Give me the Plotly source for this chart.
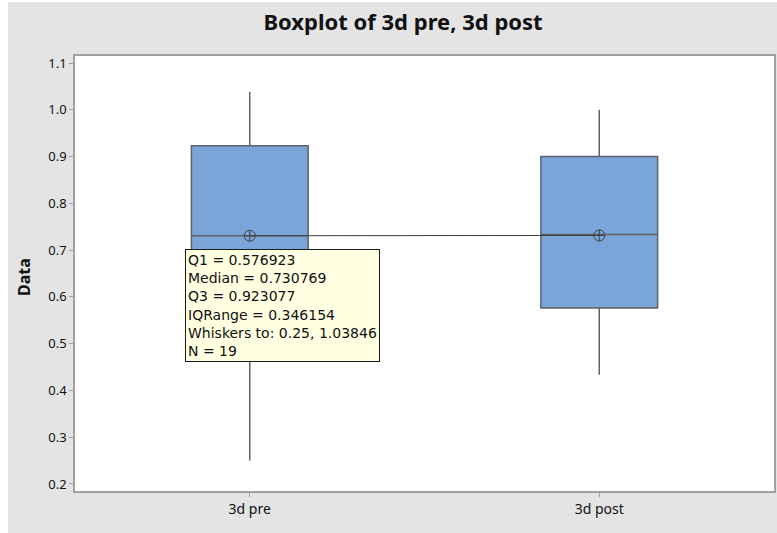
import plotly.graph_objects as go

# Summary statistics for each sample
categories = ["3d pre", "3d post"]
q1_vals = [0.576923, 0.5763]
median_vals = [0.730769, 0.7333]
q3_vals = [0.923077, 0.9]
lower_whisker = [0.25, 0.4333]
upper_whisker = [1.03846, 1.0]
mean_vals = [0.7308, 0.7313]
n_vals = [19, 19]

y_ticks = [0.2, 0.3, 0.4, 0.5, 0.6, 0.7, 0.8, 0.9, 1.0, 1.1]

BOX_FILL = "#7BA5D8"
BOX_LINE = "#5E6166"
FRAME_GRAY = "#E4E4E4"
AXIS_GRAY = "#A0A0A0"
TEXT_FONT = "Noto Sans"

fig = go.Figure()

for i, cat in enumerate(categories):
    fig.add_trace(go.Box(
        x=[cat],
        q1=[q1_vals[i]],
        median=[median_vals[i]],
        q3=[q3_vals[i]],
        lowerfence=[lower_whisker[i]],
        upperfence=[upper_whisker[i]],
        width=0.334,
        whiskerwidth=0,
        boxpoints=False,
        fillcolor=BOX_FILL,
        line=dict(color=BOX_LINE, width=1.5),
        hoverinfo="skip",
        showlegend=False,
    ))

# Mean symbols joined by a connect line
fig.add_trace(go.Scatter(
    x=categories,
    y=mean_vals,
    mode="lines+markers",
    line=dict(color="#404040", width=1),
    marker=dict(symbol="circle-cross-open", size=11,
                color="#404040", line=dict(color="#404040", width=1)),
    hoverinfo="skip",
    showlegend=False,
))

# Data tip for the first sample
i = 0
tip = "<br>".join([
    f"Q1 = {q1_vals[i]:g}",
    f"Median = {median_vals[i]:g}",
    f"Q3 = {q3_vals[i]:g}",
    f"IQRange = {q3_vals[i] - q1_vals[i]:.6f}",
    f"Whiskers to: {lower_whisker[i]:g}, {upper_whisker[i]:g}",
    f"N = {n_vals[i]}",
])
fig.add_annotation(
    text=tip, xref="paper", yref="paper", x=0.1569, y=0.5563,
    xanchor="left", yanchor="top", align="left", showarrow=False,
    font=dict(family="DejaVu Sans", size=14, color="#111111"),
    bgcolor="#FFFFE1", bordercolor="#1A1A1A", borderwidth=1, borderpad=2,
)

# Y axis title
fig.add_annotation(
    text="<b>Data</b>", xref="paper", yref="paper", x=-0.074, y=0.4925,
    xanchor="center", yanchor="middle", textangle=-90, showarrow=False,
    font=dict(family=TEXT_FONT, size=16, color="#111111"),
)

# White strips at the left and top edges of the window
fig.add_shape(type="rect", xref="paper", yref="paper",
              x0=-0.2, x1=-0.0956, y0=-0.2, y1=1.3,
              fillcolor="white", line=dict(width=0), layer="below")
fig.add_shape(type="rect", xref="paper", yref="paper",
              x0=-0.2, x1=1.2, y0=1.124, y1=1.3,
              fillcolor="white", line=dict(width=0), layer="below")

fig.update_layout(
    width=777, height=533,
    margin=dict(l=75, r=1, t=56, b=42),
    paper_bgcolor=FRAME_GRAY,
    plot_bgcolor="white",
    title=dict(text="<b>Boxplot of 3d pre, 3d post</b>",
               xref="container", yref="container",
               x=0.5187, y=0.9587, xanchor="center", yanchor="middle",
               font=dict(family=TEXT_FONT, size=22, color="#111111")),
    xaxis=dict(
        type="category", range=[-0.5, 1.5],
        showline=True, mirror=True, linecolor=AXIS_GRAY, linewidth=1.5,
        ticks="outside", ticklen=4, tickcolor=AXIS_GRAY,
        showgrid=False, zeroline=False,
        tickfont=dict(family=TEXT_FONT, size=14, color="#111111"),
    ),
    yaxis=dict(
        range=[0.185, 1.115],
        tickvals=y_ticks, ticktext=[f"{v:.1f}" for v in y_ticks],
        showline=True, mirror=True, linecolor=AXIS_GRAY, linewidth=1.5,
        ticks="outside", ticklen=4, tickcolor=AXIS_GRAY,
        showgrid=False, zeroline=False,
        tickfont=dict(family=TEXT_FONT, size=13, color="#111111"),
    ),
)

fig.write_html("out.html")
